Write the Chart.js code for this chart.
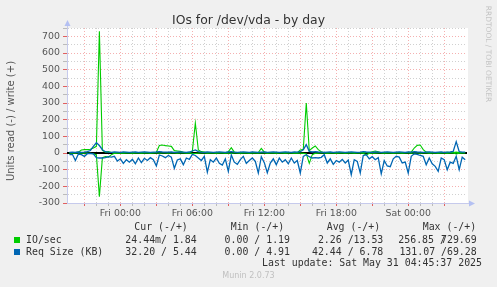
<!DOCTYPE html>
<html>
<head>
<meta charset="utf-8">
<script src="https://cdn.jsdelivr.net/npm/chart.js@4.4.1/dist/chart.umd.min.js"></script>
<style>
html,body{margin:0;padding:0;background:#f0f0f0;}
#wrap{position:relative;width:497px;height:287px;overflow:hidden;background:#f0f0f0;}
canvas{position:absolute;left:0;top:0;}
.m{position:absolute;white-space:pre;font-family:"DejaVu Sans Mono",monospace;font-size:9.9px;line-height:12px;color:#333;}
.sq{position:absolute;width:6px;height:6px;}
#title{position:absolute;left:0;top:12.5px;width:497px;text-align:center;font-family:"DejaVu Sans",sans-serif;font-size:12.4px;line-height:14px;color:#333;}
#ytitle{position:absolute;left:-89px;top:115px;width:200px;height:12px;line-height:12px;text-align:center;font-family:"DejaVu Sans",sans-serif;font-size:10px;color:#555;transform:rotate(-90deg);transform-origin:50% 50%;white-space:nowrap;}
#rrd{position:absolute;left:428px;top:48.5px;width:120px;height:10px;line-height:10px;text-align:center;font-family:"DejaVu Sans",sans-serif;font-size:7.5px;color:#c4c4c4;transform:rotate(90deg);transform-origin:50% 50%;white-space:nowrap;}
#munin{position:absolute;left:0;top:270px;width:497px;text-align:center;font-family:"DejaVu Sans",sans-serif;font-size:8px;line-height:12px;color:#c0c0c0;}
</style>
</head>
<body>
<div id="wrap">
<canvas id="c" width="497" height="287"></canvas>
<div id="title">IOs for /dev/vda - by day</div>
<div id="ytitle">Units read (-) / write (+)</div>
<div id="rrd">RRDTOOL / TOBI OETIKER</div>

<div class="m" style="left:134.3px;top:221.3px">Cur (-/+)</div>
<div class="m" style="left:230.7px;top:221.3px">Min (-/+)</div>
<div class="m" style="left:326.7px;top:221.3px">Avg (-/+)</div>
<div class="m" style="left:422.7px;top:221.3px">Max (-/+)</div>

<div class="sq" style="left:14px;top:237px;background:#00cc00"></div>
<div class="m" style="left:26px;top:233.7px">IO/sec</div>
<div class="m" style="right:300.3px;top:233.7px">24.44m/ 1.84</div>
<div class="m" style="right:207px;top:233.7px">0.00 / 1.19</div>
<div class="m" style="right:113.7px;top:233.7px">2.26 /13.53</div>
<div class="m" style="right:51.1px;top:233.7px">256.85 /</div>
<div class="m" style="right:20.3px;top:233.7px">729.69</div>

<div class="sq" style="left:14px;top:249px;background:#0066b3"></div>
<div class="m" style="left:26px;top:245.7px">Req Size (KB)</div>
<div class="m" style="right:300.3px;top:245.7px">32.20 / 5.44</div>
<div class="m" style="right:207px;top:245.7px">0.00 / 4.91</div>
<div class="m" style="right:113.7px;top:245.7px">42.44 / 6.78</div>
<div class="m" style="right:20.3px;top:245.7px">131.07 /69.28</div>

<div class="m" style="right:15px;top:257.3px">Last update: Sat May 31 04:45:37 2025</div>
<div id="munin">Munin 2.0.73</div>
</div>

<script>
// ---- time axis (hours relative to Fri 00:00), 15-minute samples ----
const START_HOUR = -4.25;
const STEP_HOURS = 0.25;
const X_MIN = -4.45;
const X_MAX = 28.9;
const Y_MIN = -300;
const Y_MAX = 750;
const xTickLabels = {0: 'Fri 00:00', 6: 'Fri 06:00', 12: 'Fri 12:00', 18: 'Fri 18:00', 24: 'Sat 00:00'};

// ---- series values (read plotted negative, write positive) ----
const ioWrite = [
  0,0,2,5,18,20,20,22,30,40,
  730,15,5,8,3,2,2,3,2,2,
  3,2,2,3,2,2,2,3,2,4,
  45,48,44,42,40,14,12,10,4,3,
  3,10,180,18,8,5,3,2,2,2,
  2,2,2,8,32,5,2,3,2,2,
  3,2,2,3,28,5,2,2,3,2,
  2,2,3,2,2,3,2,18,22,300,
  14,30,42,20,8,2,2,3,2,2,
  2,3,2,2,2,3,2,2,3,2,
  2,8,12,8,2,2,3,2,2,2,
  3,2,2,3,5,30,46,48,20,5,
  2,2,3,2,2,2,4,2,2,5,
  2,2,2
];
const ioRead = [
  0,0,0,0,-1,-1,-1,-2,-4,-10,
  -262,-28,-22,-25,-10,-2,-1,0,-1,0,
  0,-1,0,0,-1,0,0,-1,0,0,
  -1,0,0,-1,0,0,-1,0,0,-1,
  0,-2,-3,-1,0,0,-1,0,0,-1,
  0,0,-1,0,-2,0,0,-1,0,0,
  -1,0,0,-1,0,0,-1,0,0,-1,
  0,0,-1,0,0,-1,0,-1,-2,-4,
  -62,-10,-2,-1,0,0,-1,0,0,-1,
  0,0,-1,0,0,-1,0,0,-1,-12,
  -2,0,-1,0,0,-1,0,0,-1,0,
  0,-1,0,0,-1,0,0,-1,0,0,
  -1,0,0,-1,0,0,-1,0,0,-6,
  -1,0,0
];
const reqSizeWrite = [
  4,5,3,6,4,5,8,15,40,62,
  45,20,8,5,4,6,5,4,6,5,
  4,5,6,4,5,6,5,4,5,6,
  8,6,5,5,6,4,5,6,5,4,
  6,12,18,8,5,4,6,5,4,5,
  6,5,4,6,8,5,4,5,6,5,
  4,6,5,4,5,6,4,5,6,5,
  4,5,6,5,4,6,5,8,20,50,
  10,6,8,6,5,4,5,6,4,5,
  6,5,4,5,6,5,4,5,8,6,
  5,4,6,5,4,5,6,5,4,5,
  6,5,4,6,5,8,6,5,4,5,
  6,5,4,5,6,4,5,6,10,68,
  8,5,5
];
const reqSizeRead = [
  -10,-8,-45,-6,-10,-20,-4,-2,-5,-28,
  -30,-30,-28,-22,-25,-20,-48,-35,-62,-40,
  -55,-38,-65,-30,-58,-32,-45,-28,-40,-78,
  -12,-18,-28,-15,-25,-92,-42,-35,-70,-30,
  -38,-8,-15,-30,-45,-20,-115,-40,-55,-30,
  -62,-72,-35,-110,-12,-55,-68,-40,-20,-62,
  -45,-30,-50,-120,-22,-58,-118,-60,-35,-70,
  -30,-55,-40,-65,-30,-60,-45,-120,-20,-10,
  -22,-30,-28,-30,-26,-10,-60,-35,-68,-45,
  -55,-38,-60,-42,-130,-40,-50,-120,-15,-10,
  -35,-22,-40,-28,-125,-45,-78,-82,-35,-20,
  -25,-60,-55,-120,-20,-5,-8,-15,-20,-70,
  -30,-65,-80,-110,-30,-40,-100,-55,-62,-20,
  -100,-25,-40
];

const times = reqSizeRead.map((_, i) => START_HOUR + i * STEP_HOURS);
const pts = arr => arr.map((v, i) => ({x: times[i], y: v}));

const GREEN = '#00cc00';
const BLUE = '#0066b3';
const RED_GRID = '#f5b0b0';
const GREY_GRID = '#d0d0d0';
const AXIS = '#c6caec';
const ARROW = '#b4c0f2';
const TICK_FONT = {family: 'DejaVu Sans', size: 9.4};

const bgPlugin = {
  id: 'bg',
  beforeDraw(chart) {
    const {ctx, chartArea: a} = chart;
    ctx.save();
    ctx.fillStyle = '#ffffff';
    ctx.fillRect(a.left, a.top, a.right - a.left + 1, a.bottom - a.top);
    ctx.restore();
  }
};
const zeroPlugin = {
  id: 'zero',
  beforeDatasetsDraw(chart) {
    const {ctx, chartArea: a, scales} = chart;
    const y = Math.round(scales.y.getPixelForValue(0));
    ctx.save();
    ctx.strokeStyle = '#000000';
    ctx.lineWidth = 2;
    ctx.beginPath();
    ctx.moveTo(a.left, y);
    ctx.lineTo(a.right, y);
    ctx.stroke();
    ctx.restore();
  }
};
const arrowPlugin = {
  id: 'arrows',
  afterDraw(chart) {
    const {ctx, chartArea: a} = chart;
    const lx = Math.round(a.left) + 0.5;
    const by = Math.round(a.bottom) + 0.5;
    ctx.save();
    ctx.strokeStyle = AXIS;
    ctx.lineWidth = 1;
    ctx.beginPath();
    ctx.moveTo(lx, a.top);
    ctx.lineTo(lx, a.top - 3);
    ctx.moveTo(a.right, by);
    ctx.lineTo(a.right + 3, by);
    ctx.stroke();
    ctx.fillStyle = ARROW;
    ctx.beginPath();
    ctx.moveTo(lx, a.top - 8);
    ctx.lineTo(lx - 3, a.top - 2);
    ctx.lineTo(lx + 3, a.top - 2);
    ctx.closePath();
    ctx.fill();
    ctx.beginPath();
    ctx.moveTo(a.right + 8, by);
    ctx.lineTo(a.right + 2, by - 3);
    ctx.lineTo(a.right + 2, by + 3);
    ctx.closePath();
    ctx.fill();
    ctx.restore();
  }
};

const lineDs = (label, arr, color, w) => ({
  label, data: pts(arr), borderColor: color, backgroundColor: color,
  borderWidth: w, pointRadius: 0, tension: 0, fill: false
});

new Chart(document.getElementById('c'), {
  type: 'line',
  data: {
    datasets: [
      lineDs('Req Size (KB) write', reqSizeWrite, BLUE, 1.3),
      lineDs('Req Size (KB) read', reqSizeRead, BLUE, 1.3),
      lineDs('IO/sec write', ioWrite, GREEN, 1.1),
      lineDs('IO/sec read', ioRead, GREEN, 1.1)
    ]
  },
  options: {
    responsive: false,
    maintainAspectRatio: false,
    devicePixelRatio: 1,
    animation: false,
    layout: {padding: {left: 0, right: 30, top: 28, bottom: 64}},
    plugins: {legend: {display: false}, tooltip: {enabled: false}, title: {display: false}},
    scales: {
      x: {
        type: 'linear', min: X_MIN, max: X_MAX,
        afterFit(s) { s.height = 20; },
        afterBuildTicks(s) { s.ticks = s.ticks.filter(t => Number.isInteger(t.value)); },
        ticks: {
          stepSize: 1, maxTicksLimit: 100, autoSkip: false, maxRotation: 0, minRotation: 0,
          padding: 2, color: '#555', font: TICK_FONT,
          callback: v => (xTickLabels[v] !== undefined ? xTickLabels[v] : '')
        },
        grid: {
          color: c => (c.tick && c.tick.value % 3 === 0 ? RED_GRID : GREY_GRID),
          tickColor: c => (c.tick && c.tick.value % 3 === 0 ? '#e06060' : '#bbbbbb'),
          lineWidth: 1, tickLength: 3
        },
        border: {display: true, color: AXIS, width: 1, dash: [1, 2]}
      },
      y: {
        min: Y_MIN, max: Y_MAX,
        afterFit(s) { s.width = 67; },
        ticks: {
          stepSize: 50, maxTicksLimit: 100, autoSkip: false, padding: 3,
          color: '#555', font: TICK_FONT,
          callback: v => (v % 100 === 0 ? String(v) : '')
        },
        grid: {
          color: c => (c.tick && c.tick.value % 100 === 0 ? RED_GRID : GREY_GRID),
          tickColor: c => (c.tick && c.tick.value % 100 === 0 ? '#e06060' : '#bbbbbb'),
          lineWidth: 1, tickLength: 4
        },
        border: {display: true, color: AXIS, width: 1, dash: [1, 2]}
      }
    }
  },
  plugins: [bgPlugin, zeroPlugin, arrowPlugin]
});
</script>
</body>
</html>
